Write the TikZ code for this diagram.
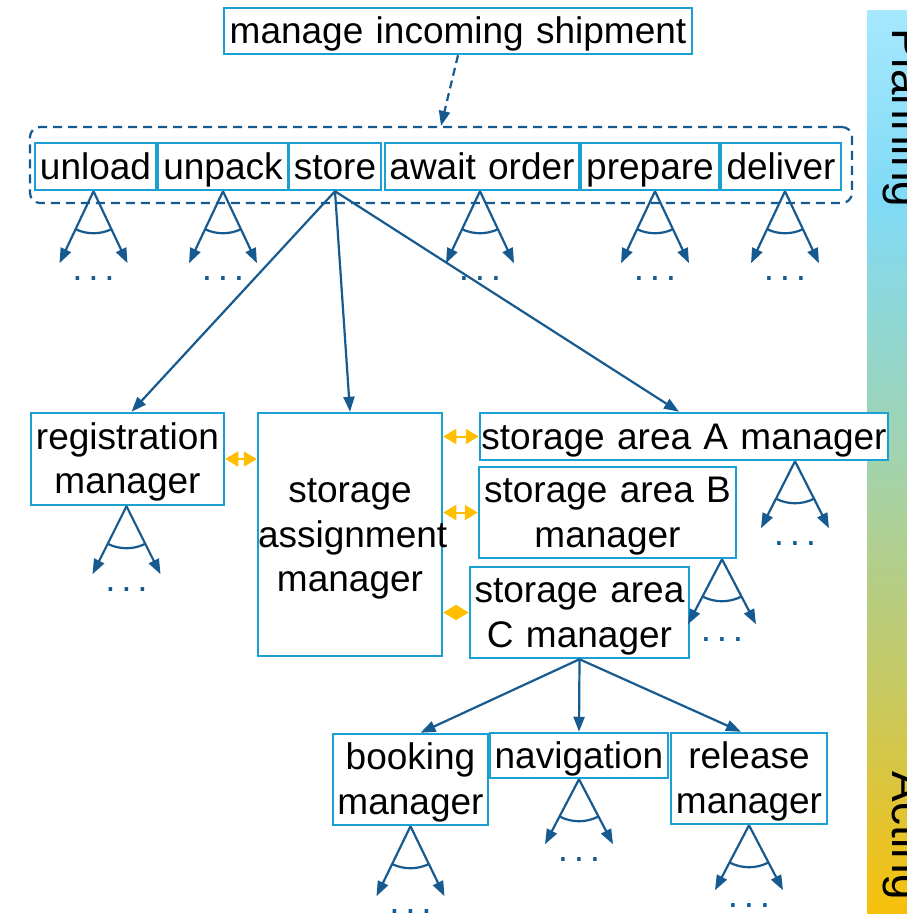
\documentclass[tikz,border=0pt]{standalone}
\usepackage{fontspec}
\setmainfont{Liberation Sans}
\usetikzlibrary{arrows.meta,calc}

\definecolor{boxblue}{HTML}{1AA0D2}
\definecolor{linkblue}{HTML}{175A8F}
\definecolor{gold}{HTML}{FFBE00}
\definecolor{barA}{HTML}{A6E8FD}
\definecolor{barB}{HTML}{80DAF6}
\definecolor{barC}{HTML}{A0D3B0}
\definecolor{barD}{HTML}{C9C95E}
\definecolor{barE}{HTML}{F7C00A}

\newcommand\labelfont{\fontsize{37}{44.5}\selectfont}
\newcommand\sidefont{\fontsize{46}{55}\selectfont}
% strut that sits the text a little low in its box
\newcommand\tstrut{\rule[-9pt]{0pt}{43pt}}

\tikzset{
  task/.style={draw=boxblue, line width=2.5, fill=white, inner sep=0,
    align=center, font=\labelfont,
    execute at begin node=\tstrut, execute at end node=\tstrut},
  link/.style={draw=linkblue, line width=2.2, -{Triangle[length=15,width=11]}},
  andarc/.style={draw=linkblue, line width=2.2},
  dual/.style={draw=gold, line width=2,
    {Triangle[length=13,width=15]}-{Triangle[length=13,width=15]}},
  dots/.style={text=linkblue, font=\labelfont, inner sep=0, anchor=base},
  sidelabel/.style={font=\sidefont, inner sep=0, rotate=-90},
}

% AND decomposition below an apex: two arrows, an arc and the ellipsis
\newcommand\fork[2]{%
  \coordinate (#1-l) at ($(#1)+(-34,#2)$);
  \coordinate (#1-r) at ($(#1)+(34,#2)$);
  \draw[link] (#1) -- (#1-l);
  \draw[link] (#1) -- (#1-r);
  \draw[andarc] ($(#1)+({atan2(#2,-34)}:42)$) arc[start angle={atan2(#2,-34)}, end angle={atan2(#2,34)}, radius=42];
  \node[dots] (#1-dots) at ($(#1)+(0,#2+17)$) {.\kern5.7pt.\kern5.7pt.};
}

\begin{document}
\begin{tikzpicture}[x=1pt, y=-1pt]
\useasboundingbox (0,0) rectangle (907,914);
\clip (0,0) rectangle (907,914);

% planning / acting scale
\shade[top color=barA, bottom color=barB] (867,10) rectangle (910,200.5);
\shade[top color=barB, bottom color=barC] (867,200) rectangle (910,450.5);
\shade[top color=barC, bottom color=barD] (867,450) rectangle (910,700.5);
\shade[top color=barD, bottom color=barE] (867,700) rectangle (910,914);
\node[sidelabel, anchor=base west] (planning) at (892,28) {Planning};
\node[sidelabel, anchor=base east] (acting) at (892,900) {Acting};

% goal and its phases
\node[task, text width=468, minimum height=46] (goal) at (458,31) {manage incoming shipment};
\node[draw=linkblue, line width=2.2, dash pattern=on 9 off 6, rounded corners=10,
      minimum width=822, minimum height=76, inner sep=0] (phase) at (441,165) {};
\draw[link, dash pattern=on 8 off 5] (goal.south) -- (phase.north);

\node[task, text width=121, minimum height=47] (unload)  at (95.5,166.5) {unload};
\node[task, text width=130, minimum height=47] (unpack)  at (223,166.5) {unpack};
\node[task, text width=92,  minimum height=47] (store)   at (335,166.5) {store};
\node[task, text width=194, minimum height=47] (await)   at (482,166.5) {await order};
\node[task, text width=138, minimum height=47] (prepare) at (650,166.5) {prepare};
\node[task, text width=120, minimum height=47] (deliver) at (781,166.5) {deliver};

% managers
\node[task, text width=193, minimum height=92]  (reg)  at (127.5,459)   {registration\\manager};
\node[task, text width=184, minimum height=243] (sam)  at (350,534.5)   {storage\\assignment\\manager};
\node[task, text width=408, minimum height=47]  (saA)  at (684,436.5)   {storage area A manager};
\node[task, text width=257, minimum height=91]  (saB)  at (607.5,512.5) {storage area B\\manager};
\node[task, text width=219, minimum height=91]  (saC)  at (579.5,612.5) {storage area\\C manager};
\node[task, text width=155, minimum height=91]  (book) at (410.5,779.5) {booking\\manager};
\node[task, text width=178, minimum height=45]  (nav)  at (579,755.5)   {navigation};
\node[task, text width=156, minimum height=91]  (rel)  at (749,778.5)   {release\\manager};

% refinement of store
\draw[link] (store.south) -- ([xshift=4]reg.north);
\draw[link] (store.south) -- (sam.north);
\draw[link] (store.south) -- ([xshift=-5]saA.north);

% refinement of storage area C
\draw[link] (saC.south) -- ([xshift=10]book.north);
\draw[link] (saC.south) -- (nav.north);
\draw[link] (saC.south) -- ([xshift=-8]rel.north);

% coordination links
\draw[dual] (reg.east) -- (reg.east -| sam.west);
\draw[dual] (saA.west -| sam.east) -- (saA.west);
\draw[dual] (saB.west -| sam.east) -- (saB.west);
\draw[dual] (saC.west -| sam.east) -- (saC.west);

% further decompositions
\coordinate (f-unload)  at ([xshift=-2]unload.south);
\coordinate (f-unpack)  at (unpack.south);
\coordinate (f-await)   at ([xshift=-2]await.south);
\coordinate (f-prepare) at ([xshift=5]prepare.south);
\coordinate (f-deliver) at ([xshift=4]deliver.south);
\coordinate (f-reg)     at ([xshift=-1]reg.south);
\coordinate (f-saA)     at ([xshift=111]saA.south);
\coordinate (f-saB)     at ([xshift=114.5]saB.south);
\coordinate (f-book)    at (book.south);
\coordinate (f-nav)     at (nav.south);
\coordinate (f-rel)     at (rel.south);

\fork{f-unload}{72}
\fork{f-unpack}{72}
\fork{f-await}{72}
\fork{f-prepare}{72}
\fork{f-deliver}{72}
\fork{f-reg}{68}
\fork{f-saA}{67}
\fork{f-saB}{65}
\fork{f-book}{70}
\fork{f-nav}{65}
\fork{f-rel}{65}
\end{tikzpicture}
\end{document}
